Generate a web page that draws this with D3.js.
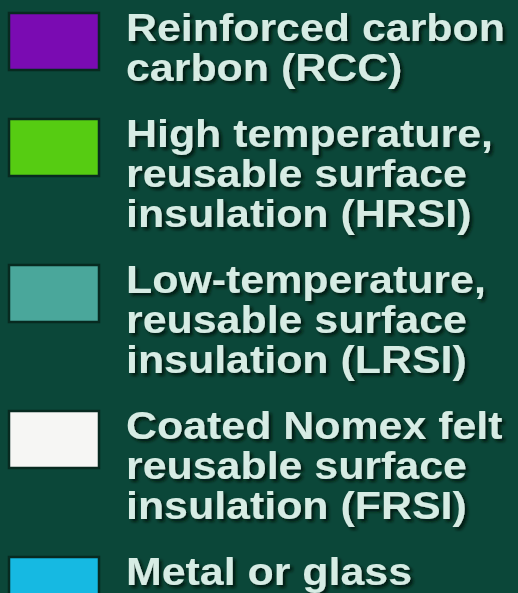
<!DOCTYPE html>
<html>
<head>
<meta charset="utf-8">
<script src="https://cdn.jsdelivr.net/npm/d3@7"></script>
<style>
  html, body { margin: 0; padding: 0; background: #0b4739; overflow: hidden; }
  svg { display: block; }
</style>
</head>
<body>
<svg id="chart" width="518" height="593"></svg>
<script>
// ---- data ----
const categories = ["RCC", "HRSI", "LRSI", "FRSI", "Metal"];
const labels = [
  ["Reinforced carbon", "carbon (RCC)"],
  ["High temperature,", "reusable surface", "insulation (HRSI)"],
  ["Low-temperature,", "reusable surface", "insulation (LRSI)"],
  ["Coated Nomex felt", "reusable surface", "insulation (FRSI)"],
  ["Metal or glass"]
];
const swatchColors = ["#7a0bb2", "#56cc12", "#4aa79b", "#f6f6f4", "#16b9e2"];

// ---- layout ----
const W = 518, H = 593;
const fontSize = 39, lineH = 40, entryGap = 26, stretch = 1.1;
const svg = d3.select("#chart");
svg.append("rect").attr("width", W).attr("height", H).attr("fill", "#0b4739");

const defs = svg.append("defs");
const f = defs.append("filter").attr("id", "shadow")
  .attr("x", "-10%").attr("y", "-20%").attr("width", "130%").attr("height", "150%");
f.append("feDropShadow").attr("dx", 2.5).attr("dy", 2.5).attr("stdDeviation", 1.4)
  .attr("flood-color", "#02170f").attr("flood-opacity", 0.95);

const color = d3.scaleOrdinal().domain(categories).range(swatchColors);

// cumulative first-baseline positions from line counts
let acc = 41;
const entries = categories.map((c, i) => {
  const e = { key: c, lines: labels[i], y: acc };
  acc += labels[i].length * lineH + entryGap;
  return e;
});

const g = svg.selectAll("g.entry").data(entries).join("g").attr("class", "entry");

g.append("rect")
  .attr("x", 9)
  .attr("y", d => d.y - 28)
  .attr("width", 90)
  .attr("height", 57)
  .attr("fill", d => color(d.key))
  .attr("stroke", "#072a20")
  .attr("stroke-width", 2.5);

const txt = g.append("g")
  .attr("transform", d => `translate(126,${d.y}) scale(${stretch},1)`)
  .attr("filter", "url(#shadow)");

txt.selectAll("text").data(d => d.lines).join("text")
  .attr("x", 0)
  .attr("y", (d, i) => i * lineH)
  .attr("font-family", "'Liberation Sans', Arial, Helvetica, sans-serif")
  .attr("font-weight", "bold")
  .attr("font-size", fontSize)
  .attr("fill", "#d6ece4")
  .text(d => d);
</script>
</body>
</html>
